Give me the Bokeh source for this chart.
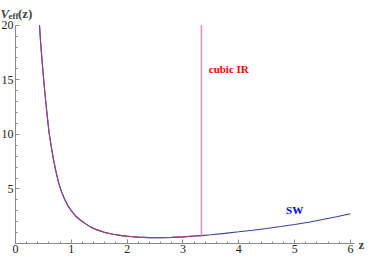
from bokeh.plotting import figure
from bokeh.models import FixedTicker, Label, Range1d, LinearAxis
from bokeh.embed import file_html
from bokeh.resources import INLINE

# --- data ---
z_shared = [0.43, 0.45, 0.48, 0.51, 0.54, 0.57, 0.60, 0.64, 0.68, 0.72, 0.77, 0.82,
            0.88, 0.94, 1.00, 1.08, 1.16, 1.25, 1.35, 1.45, 1.60, 1.75, 1.90, 2.05,
            2.20, 2.40, 2.60, 2.80, 3.00, 3.20, 3.33]
v_shared = [20.0, 18.4, 16.5, 14.7, 13.1, 11.6, 10.2, 8.9, 7.7, 6.7, 5.6, 4.8,
            4.05, 3.45, 3.0, 2.5, 2.15, 1.82, 1.5, 1.27, 1.0, 0.84, 0.72, 0.64,
            0.58, 0.54, 0.53, 0.56, 0.61, 0.68, 0.72]
z_sw_tail = [3.50, 3.75, 4.00, 4.25, 4.50, 4.75, 5.00, 5.25, 5.50, 5.75, 6.00]
v_sw_tail = [0.80, 0.93, 1.07, 1.22, 1.38, 1.55, 1.74, 1.95, 2.20, 2.45, 2.72]
z_wall = [3.33, 3.33]
v_wall = [0.72, 20.0]

x_ticks = [0, 1, 2, 3, 4, 5, 6]
y_ticks = [5, 10, 15, 20]
series_names = ["SW", "cubic IR"]

SW_COLOR = "#3d3d99"
IR_COLOR = "#993d7a"
WALL_COLOR = "#d47cbc"
SERIF = "Liberation Serif"

W, H = 366, 257

p = figure(width=W, height=H, output_backend="svg", toolbar_location=None,
           x_range=Range1d(-0.2687, 6.287), y_range=Range1d(-1.283, 22.263),
           x_axis_location=None, y_axis_location=None,
           min_border_left=0, min_border_right=0, min_border_top=0, min_border_bottom=0)
p.outline_line_color = None
p.xgrid.visible = False
p.ygrid.visible = False
p.background_fill_color = "white"
p.border_fill_color = "white"

# SW curve
p.line(z_shared + z_sw_tail, v_shared + v_sw_tail, line_color=SW_COLOR, line_width=1.1)
# cubic IR curve (drawn on top), with its wall
p.line(z_shared, v_shared, line_color=IR_COLOR, line_width=1.1)
p.line(z_wall, v_wall, line_color=WALL_COLOR, line_width=1.5, line_alpha=0.85)

xaxis = LinearAxis(fixed_location=0, bounds=(0, 6.08),
                   ticker=FixedTicker(ticks=x_ticks,
                                      minor_ticks=[i / 5 for i in range(0, 31) if i % 5 != 0]))
yaxis = LinearAxis(fixed_location=0, bounds=(0, 20),
                   ticker=FixedTicker(ticks=y_ticks,
                                      minor_ticks=[i for i in range(1, 20) if i % 5 != 0]))
for ax in (xaxis, yaxis):
    ax.axis_line_color = "#8a8a8a"
    ax.major_tick_line_color = "#8a8a8a"
    ax.minor_tick_line_color = "#8a8a8a"
    ax.major_tick_in = 4
    ax.major_tick_out = 0
    ax.minor_tick_in = 2
    ax.minor_tick_out = 0
    ax.major_label_text_font = SERIF
    ax.major_label_text_font_size = "12px"
    ax.major_label_text_color = "#222222"
    ax.major_label_standoff = 2
p.add_layout(xaxis, "below")
p.add_layout(yaxis, "left")

# series labels
p.add_layout(Label(x=3.82, y=16.0, text=series_names[1], text_color="#ff0000",
                   text_font=SERIF, text_font_style="bold", text_font_size="11px",
                   text_align="center", text_baseline="middle"))
p.add_layout(Label(x=5.0, y=3.05, text=series_names[0], text_color="#0000ff",
                   text_font=SERIF, text_font_style="bold", text_font_size="11px",
                   text_align="center", text_baseline="middle"))

# axis labels (screen units: from the frame's bottom-left corner)
p.add_layout(Label(x=0, y=H - 13, x_units="screen", y_units="screen",
                   text="V", text_font=SERIF, text_font_style="bold italic",
                   text_font_size="13px", text_baseline="alphabetic"))
p.add_layout(Label(x=8, y=H - 15.5, x_units="screen", y_units="screen",
                   text="eff", text_font=SERIF, text_font_style="bold",
                   text_font_size="9px", text_baseline="alphabetic"))
p.add_layout(Label(x=17.5, y=H - 13, x_units="screen", y_units="screen",
                   text="(z)", text_font=SERIF, text_font_style="bold",
                   text_font_size="13px", text_baseline="alphabetic"))
p.add_layout(Label(x=358, y=H - 244, x_units="screen", y_units="screen",
                   text="z", text_font=SERIF, text_font_style="bold",
                   text_font_size="13px", text_baseline="middle"))

open("out.html", "w").write(file_html(p, INLINE))
